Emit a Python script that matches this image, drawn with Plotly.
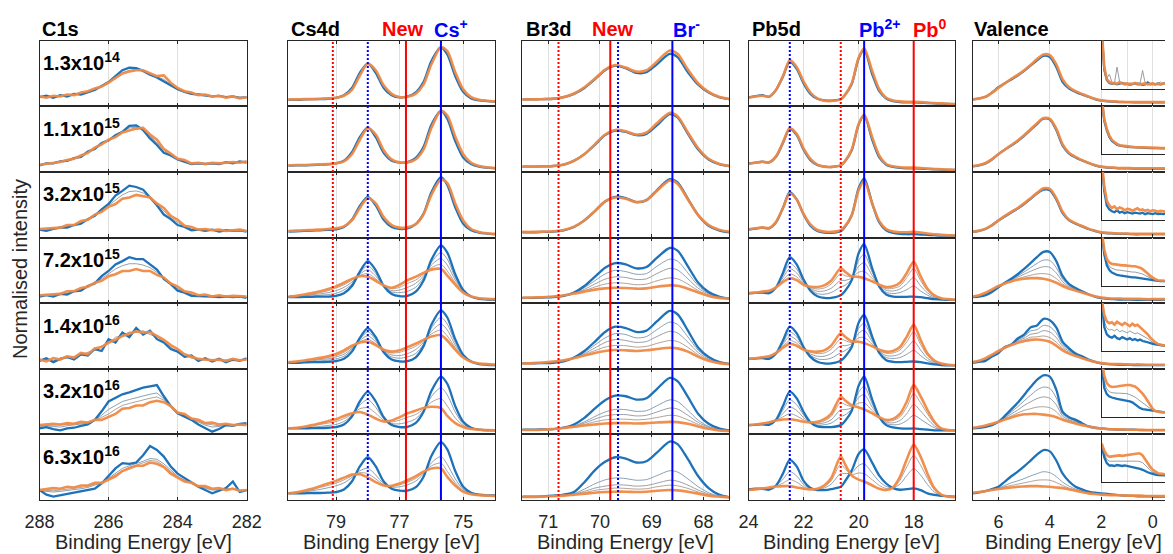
import plotly.graph_objects as go

# ------------------------------------------------------------------ data
DOSES = ['1.3x10<sup>14</sup>', '1.1x10<sup>15</sup>', '3.2x10<sup>15</sup>', '7.2x10<sup>15</sup>',
         '1.4x10<sup>16</sup>', '3.2x10<sup>16</sup>', '6.3x10<sup>16</sup>']

# ---- C1s
E_C1S = [288.0, 287.8, 287.6, 287.4, 287.2, 287.0, 286.8, 286.6, 286.4, 286.2, 286.0, 285.8, 285.6, 285.4,
         285.2, 285.0, 284.8, 284.6, 284.4, 284.2, 284.0, 283.8, 283.6, 283.4, 283.2, 283.0, 282.8, 282.6,
         282.4, 282.2, 282.0]
C1S_BLUE = [
    [14, 16, 13, 17, 15, 19, 18, 22, 25, 31, 37, 46, 55, 59, 58, 54, 48, 44, 38, 31, 26, 22, 19, 18, 17, 15, 16, 14, 15, 13, 14],
    [10, 13, 13, 16, 17, 21, 23, 31, 35, 44, 48, 56, 61, 70, 71, 64, 51, 41, 29, 25, 19, 16, 12, 13, 12, 13, 12, 15, 13, 16, 14],
    [12, 10, 13, 15, 15, 19, 21, 28, 33, 43, 51, 64, 71, 79, 77, 73, 61, 49, 35, 28, 19, 16, 11, 12, 10, 12, 9, 11, 10, 11, 9],
    [10, 12, 10, 14, 13, 18, 19, 26, 30, 41, 49, 59, 64, 70, 67, 67, 59, 51, 37, 29, 19, 16, 11, 11, 10, 10, 9, 10, 9, 10, 8],
    [12, 16, 10, 15, 18, 14, 22, 20, 30, 27, 45, 40, 55, 48, 62, 52, 58, 45, 40, 30, 26, 18, 20, 12, 16, 11, 15, 10, 14, 12, 16],
    [9, 11, 8, 6, 9, 10, 13, 15, 22, 35, 50, 56, 61, 64, 68, 71, 73, 75, 58, 43, 32, 27, 22, 15, 9, 4, 8, 14, 13, 16, 17],
    [15, 8, 5, 7, 8, 10, 12, 14, 17, 25, 37, 48, 56, 55, 57, 68, 82, 76, 66, 51, 40, 33, 27, 20, 15, 10, 14, 18, 28, 12, 15],
]
C1S_ORANGE = [
    [15, 13, 16, 15, 18, 17, 21, 23, 27, 30, 36, 43, 50, 53, 55, 55, 50, 46, 47, 36, 28, 23, 21, 17, 18, 15, 16, 13, 15, 12, 14],
    [11, 12, 14, 15, 18, 20, 25, 29, 37, 42, 49, 53, 60, 63, 66, 67, 57, 49, 35, 28, 20, 18, 13, 14, 12, 14, 13, 14, 15, 14, 16],
    [13, 14, 15, 15, 19, 19, 25, 27, 35, 39, 47, 51, 59, 61, 65, 63, 61, 52, 45, 33, 27, 18, 16, 12, 13, 11, 12, 10, 11, 12, 10],
    [12, 13, 14, 14, 18, 18, 23, 25, 31, 34, 41, 44, 49, 49, 52, 49, 49, 43, 39, 30, 25, 18, 16, 12, 13, 10, 12, 10, 11, 10, 10],
    [14, 11, 16, 14, 19, 17, 24, 22, 31, 33, 40, 44, 50, 53, 57, 55, 56, 50, 44, 36, 30, 22, 19, 15, 14, 13, 14, 12, 15, 13, 14],
    [14, 15, 16, 15, 17, 16, 19, 18, 22, 22, 26, 31, 39, 40, 44, 44, 49, 51, 49, 43, 33, 31, 24, 22, 17, 18, 15, 16, 14, 15, 14],
    [15, 16, 18, 17, 20, 19, 22, 22, 26, 26, 31, 36, 44, 48, 52, 52, 57, 55, 50, 40, 34, 28, 26, 21, 21, 17, 18, 15, 17, 14, 15],
]
C1S_GREY = [
    [[14, 15, 15, 16, 16, 18, 20, 22, 26, 30, 36, 44, 51, 55, 56, 54, 49, 45, 41, 33, 27, 22, 20, 18, 17, 16, 15, 15, 14, 14, 13]],
    [[10, 12, 14, 16, 18, 20, 24, 30, 36, 43, 49, 55, 61, 67, 68, 64, 55, 44, 33, 25, 20, 16, 13, 13, 13, 13, 13, 14, 14, 15, 15]],
    [[12, 13, 14, 15, 17, 19, 23, 28, 34, 41, 49, 57, 65, 70, 71, 68, 61, 51, 40, 30, 23, 17, 13, 12, 11, 11, 10, 10, 11, 10, 10]],
    [[11, 12, 12, 14, 15, 18, 21, 25, 30, 37, 45, 52, 57, 60, 60, 58, 54, 47, 38, 29, 22, 17, 13, 11, 11, 10, 10, 10, 10, 9, 9]],
    [[13, 14, 12, 16, 16, 18, 21, 25, 28, 35, 38, 48, 50, 56, 55, 58, 52, 49, 41, 34, 25, 21, 16, 15, 13, 14, 12, 13, 12, 14, 13]],
    [[12, 13, 12, 11, 13, 14, 16, 17, 22, 29, 38, 44, 50, 53, 56, 58, 61, 63, 54, 43, 33, 28, 23, 18, 14, 11, 12, 15, 14, 15, 15],
     [13, 14, 14, 14, 15, 16, 17, 18, 21, 26, 31, 38, 44, 47, 50, 52, 55, 57, 52, 43, 34, 29, 24, 20, 16, 14, 13, 15, 14, 14, 15]],
    [[14, 13, 12, 13, 14, 15, 17, 19, 22, 26, 33, 40, 48, 52, 55, 59, 63, 62, 55, 45, 36, 30, 25, 21, 18, 15, 15, 16, 18, 14, 15],
     [15, 14, 14, 15, 16, 17, 19, 21, 24, 27, 32, 38, 45, 50, 53, 56, 60, 59, 52, 43, 35, 30, 25, 21, 19, 16, 16, 16, 17, 15, 15]],
]

# ---- Cs4d
E_CS = [80.5, 80.25, 80.0, 79.75, 79.5, 79.25, 79.0, 78.75, 78.5, 78.25, 78.0, 77.75, 77.5, 77.25, 77.0,
        76.75, 76.5, 76.25, 76.0, 75.7, 75.5, 75.25, 75.0, 74.75, 74.5, 74.25, 74.0]
CS_BLUE = [
    [10, 10, 10.5, 11, 11, 11.5, 13, 17, 28, 51, 65, 51, 28, 17, 13.5, 15, 21, 37, 69, 90, 79, 46, 22, 12, 9, 8, 7],
    [9.5, 10, 10, 10.5, 11, 11.5, 13, 17, 30, 53, 68, 53, 29, 17, 14, 15, 21, 38, 72, 93, 81, 47, 22, 12, 8, 6.5, 5.5],
    [9, 9.5, 10, 10.5, 11, 11.5, 12.5, 16, 27, 48, 62, 49, 27, 16, 13, 14, 20, 36, 69, 92, 80, 46, 21, 11, 7.5, 6, 5],
    [9, 9, 9.5, 9.5, 10, 10, 11, 15, 26, 48, 64, 50, 26, 14, 10.5, 11, 17, 34, 66, 88, 77, 44, 20, 10, 6.5, 5.5, 5],
    [9, 9, 9.5, 10, 10, 10.5, 11.5, 15, 26, 47, 62, 48, 25, 14, 11, 11.5, 17, 34, 67, 89, 78, 45, 21, 11, 7, 6, 5.5],
    [9, 9, 9, 9.5, 9.5, 10, 11, 15, 27, 50, 65, 50, 26, 14, 11, 11.5, 17, 34, 66, 88, 77, 43, 19, 10, 7, 6, 6],
    [10, 10, 10, 10.5, 10.5, 11, 12, 16, 28, 51, 65, 51, 28, 17, 14, 14, 19, 35, 67, 88, 77, 44, 20, 11, 8, 7, 7],
]
CS_ORANGE = [
    [10.5, 10.5, 11, 11, 11.5, 12, 13, 16, 25, 47, 65, 55, 32, 19, 14, 14.5, 19, 33, 64, 90, 84, 52, 26, 14, 10, 8.5, 7.5],
    [10, 10.5, 10.5, 11, 11.5, 12, 13, 16, 27, 49, 67, 57, 33, 19, 14.5, 14.5, 19, 34, 67, 93, 86, 54, 27, 14, 9, 7, 6],
    [10, 10.5, 11, 11.5, 12, 13, 14, 17, 26, 45, 60, 52, 31, 19, 15, 15.5, 20, 35, 65, 88, 83, 52, 26, 13, 8.5, 6.5, 5.5],
    [10, 11, 13, 15.5, 18, 21.5, 25.5, 31, 37, 41, 40, 34, 27, 23.5, 28, 35, 40, 46, 51, 52, 42, 28, 16, 10, 7.5, 6.5, 6],
    [10, 11, 12.5, 14.5, 16.5, 19, 22.5, 28, 35, 40, 41, 36, 29, 26, 28, 33, 38, 44, 49, 51, 43, 29, 17, 10.5, 8, 7, 6.5],
    [9, 10, 11.5, 14, 17, 20, 23, 28, 32, 34, 30, 24, 19.5, 21, 26, 32, 36, 40, 42, 40, 28, 17, 11, 8, 7, 6.5, 6],
    [10, 11.5, 14, 17, 21, 25, 29, 34, 38.5, 39, 34, 27, 22, 21.5, 25, 30, 36, 43, 48, 48, 35, 22, 12.5, 8.5, 7, 6.5, 6],
]
CS_GREY = [
    [], [], [],
    [[9, 10, 11, 11, 12, 13, 15, 20, 29, 46, 57, 45, 26, 17, 16, 18, 24, 38, 62, 77, 67, 39, 19, 10, 7, 6, 5],
     [10, 10, 11, 13, 14, 16, 19, 24, 32, 44, 51, 41, 27, 19, 20, 24, 30, 41, 58, 68, 58, 35, 18, 10, 7, 6, 6],
     [10, 11, 12, 14, 16, 19, 23, 28, 35, 42, 45, 37, 27, 22, 24, 30, 35, 44, 54, 59, 49, 31, 17, 10, 7, 6, 6]],
    [[9, 10, 10, 11, 12, 13, 15, 19, 29, 45, 56, 44, 26, 18, 16, 18, 23, 37, 62, 78, 68, 40, 20, 11, 7, 6, 6],
     [10, 10, 11, 12, 14, 15, 18, 22, 31, 43, 50, 41, 27, 21, 20, 23, 29, 40, 57, 68, 59, 36, 19, 11, 8, 7, 6],
     [10, 11, 12, 14, 15, 17, 20, 25, 33, 41, 45, 38, 28, 24, 25, 29, 34, 42, 53, 59, 50, 32, 18, 11, 8, 7, 6]],
    [[9, 9, 10, 11, 12, 13.5, 15, 19.5, 29, 44.5, 53, 41, 24, 16.5, 16, 18.5, 23.5, 36, 57.5, 71, 60, 34, 16, 9.5, 7, 6, 6],
     [9, 10, 11, 13, 15, 17, 19.5, 24, 30.5, 39, 40.5, 32, 21.5, 19, 21.5, 26, 30, 38, 49, 54.5, 43, 25, 13.5, 8.5, 7, 6.5, 6]],
    [[10, 11, 12, 14, 16, 18.5, 21.5, 26, 34, 44.5, 48, 38, 24.5, 19.5, 20, 23, 28.5, 39.5, 56.5, 66, 54, 32, 16, 10, 7.5, 7, 6.5],
     [10, 11, 13, 16, 19, 22, 25.5, 30.5, 36.5, 41.5, 40, 32, 23, 20.5, 23, 27, 32.5, 41.5, 52, 56, 43.5, 26.5, 14, 9, 7, 6.5, 6]],
]

# ---- Br3d
E_BR = [71.5, 71.3, 71.1, 70.9, 70.7, 70.5, 70.3, 70.1, 69.9, 69.7, 69.5, 69.3, 69.1, 68.9, 68.65, 68.5, 68.3,
        68.1, 67.9, 67.7, 67.5]
BR_BLUE = [
    [10.5, 10.5, 11, 11.5, 14, 19, 28, 41, 55, 62, 58, 51, 52, 64, 80, 75, 52, 33, 21, 14, 11],
    [8, 8, 8.5, 9, 11, 17, 27, 41, 56, 63, 61, 56, 58, 71, 88, 83, 58, 34, 19, 12, 9],
    [8, 8, 8.5, 9, 11, 16, 26, 40, 55, 62, 60, 54, 57, 72, 89, 84, 59, 34, 18, 11, 8],
    [8, 8, 8.5, 9, 11, 16, 26, 40, 54, 61, 59, 53, 55, 69, 84, 80, 56, 31, 17, 10, 7],
    [8, 8, 8.5, 9, 11, 17, 27, 41, 56, 64, 62, 56, 58, 72, 88, 83, 58, 32, 18, 10.5, 7.5],
    [7, 7, 7.5, 8, 10, 15, 25, 39, 52, 59, 58, 53, 55, 69, 86, 81, 57, 31, 16, 9, 6],
    [5, 5, 5.5, 6.5, 8, 12, 27, 45, 58, 65, 63, 57, 59, 72, 89, 85, 62, 36, 18, 8, 4],
]
BR_ORANGE = [
    [10.5, 10.5, 11, 11.5, 14, 19.5, 29, 42, 56, 63, 59, 53, 55, 68, 85, 80, 56, 35, 22, 14.5, 11],
    [8, 8, 8.5, 9, 11, 17, 27, 42, 57, 64, 62, 57, 60, 74, 90, 85, 60, 36, 20, 12.5, 9],
    [8.5, 8.5, 9, 9.5, 11.5, 16.5, 26, 40, 55, 61, 59, 54, 57, 71, 87, 82, 58, 34, 19, 12, 9],
    [8, 8.5, 9, 10, 12, 14.5, 17.5, 20.5, 22.5, 23.5, 23, 22, 22.5, 25, 27, 26.5, 22, 16, 11, 8, 7],
    [8, 8.5, 9.5, 11, 13, 16, 20, 24, 27, 28.5, 28, 27, 28, 30, 32, 31, 26, 18, 12, 8.5, 7],
    [6.5, 6.5, 7, 8, 9.5, 11.5, 13.5, 15, 16.5, 17, 17, 16.5, 17, 18, 19, 18.5, 16, 12, 8.5, 6, 5],
    [4.5, 4.5, 5, 5.5, 6.5, 8, 9.5, 11, 12, 12.5, 12.5, 12, 12.5, 14, 15, 14.5, 12.5, 9.5, 6.5, 5, 4],
]
BR_GREY = [
    [], [], [],
    [[8, 8, 8.5, 9, 11.5, 15.5, 23.5, 34, 44.5, 50, 48, 44, 45, 56, 67, 64, 46, 26.5, 15, 9.5, 7],
     [8, 8, 9, 9.5, 11.5, 15, 21, 29, 36.5, 40, 39, 36, 37, 45, 53, 50.5, 37, 22.5, 14, 9, 7],
     [8, 8.5, 9, 10, 12, 15, 19, 24.5, 29, 31, 30, 28, 29, 34, 38.5, 37, 29, 19, 12, 8.5, 7]],
    [[8, 8, 9, 10, 12, 17, 25, 36, 47, 53.5, 52, 47, 49, 59.5, 71, 67.5, 48.5, 28, 16, 10, 7.5],
     [8, 8, 9, 10, 12, 16.5, 23, 31.5, 40, 44.5, 43, 40, 41.5, 49, 57, 54.5, 40.5, 24.5, 14.5, 9.5, 7],
     [8, 8.5, 9, 11, 13, 16, 21.5, 27.5, 33, 35.5, 35, 33, 34, 38.5, 43, 41.5, 32.5, 21, 13, 9, 7]],
    [[7, 7, 7, 8, 10, 13, 19, 27, 34, 38, 37.5, 35, 36, 43.5, 52.5, 50, 36.5, 21.5, 12, 7.5, 5.5],
     [7, 7, 7, 8, 10, 12.5, 17, 23, 28, 30, 30, 28, 29, 34, 40, 38.5, 29, 18, 11, 7, 5],
     [6.5, 6.5, 7, 8, 9.5, 12, 15, 19, 22, 23, 23, 22, 23, 25.5, 29, 28, 22, 15, 9.5, 6.5, 5]],
    [[5, 5, 5, 6, 7, 9.5, 16.5, 24.5, 30.5, 33.5, 32.5, 30, 31, 37, 44.5, 42.5, 32, 20, 11, 6, 4],
     [4.5, 4.5, 5, 5.5, 7, 9, 13, 18, 21, 23, 22.5, 21, 22, 25.5, 30, 28.5, 22.5, 15, 9, 5.5, 4],
     [4.5, 4.5, 5, 5.5, 6.5, 8.5, 11, 14.5, 16.5, 18, 17.5, 16.5, 17, 20, 22.5, 21.5, 17.5, 12, 7.5, 5.5, 4]],
]

# ---- Pb5d
E_PB = [24.0, 23.75, 23.5, 23.25, 23.0, 22.75, 22.5, 22.25, 22.0, 21.75, 21.5, 21.25, 21.0, 20.65, 20.5, 20.25,
        20.0, 19.8, 19.5, 19.25, 19.0, 18.75, 18.5, 18.25, 18.0, 17.75, 17.5, 17.25, 17.0, 16.75, 16.5]
PB_BLUE = [
    [13.5, 15.5, 17, 14.5, 25, 45, 68, 57, 35, 19, 11.5, 9, 8.5, 11, 17, 34, 73, 86, 48, 23, 12, 8, 6.5, 6, 6, 5.5, 5, 4.5, 4, 3.5, 3],
    [12.5, 14, 15.5, 14.5, 23, 44, 66, 56, 34, 18, 10.5, 8, 7.5, 10, 16, 33, 72, 86, 48, 22, 11, 7.5, 6, 5.5, 5.5, 5, 4.5, 4, 3.5, 3, 3],
    [12, 13.5, 15, 14, 23, 45, 69, 58, 35, 18, 10, 7.5, 7, 9.5, 16, 34, 75, 90, 51, 23, 11, 7, 5.5, 5, 5, 4.5, 4, 3.5, 3, 3, 3],
    [15, 15.5, 16, 15, 24, 46, 70, 59, 36, 19, 10.5, 8, 8, 12, 18, 35, 76, 90, 52, 25, 13, 10, 9.5, 9.5, 10, 9, 7.5, 6, 5.5, 5, 5],
    [15, 15.5, 16, 15, 23, 43, 64, 54, 33, 18, 10.5, 8, 8, 12, 18, 33, 70, 82, 48, 24, 13, 10.5, 10, 10.5, 11, 10, 8, 6.5, 5.5, 5, 5],
    [14, 14.5, 15, 14.5, 22, 43, 65, 55, 34, 18, 12, 11, 11, 14, 20, 36, 74, 88, 52, 26, 14, 10.5, 9, 8.5, 9, 8, 7, 6, 6, 6, 6],
    [16, 17, 17, 15.5, 22, 40, 61, 51, 29, 18, 15, 15, 16.5, 20, 28, 45, 70, 77, 56, 37, 25, 18, 15.5, 16.5, 17.5, 15, 10, 7.5, 6, 5.5, 5],
]
PB_ORANGE = [
    [13, 15, 16, 15, 25, 46, 70, 60, 38, 21, 12, 8.5, 8, 10.5, 17, 35, 74, 88, 53, 26, 13, 9, 7.5, 7, 7, 6.5, 5.5, 5, 4.5, 4, 3.5],
    [12.5, 14, 15.5, 14.5, 24, 45, 67, 58, 36, 20, 11, 8, 7.5, 10, 16, 34, 73, 87, 52, 25, 12, 8.5, 7, 6.5, 6.5, 6, 5, 4.5, 4, 3.5, 3],
    [12.5, 14, 15.5, 14.5, 24, 45, 67, 58, 36, 20, 11.5, 9, 8.5, 11, 17, 34, 72, 86, 51, 25, 13, 9, 8, 8, 8.5, 7.5, 6, 5, 4, 3.5, 3],
    [15, 16, 17.5, 19, 24, 32, 38, 35, 28, 25, 24.5, 27, 34, 53, 48, 41, 40, 38, 33, 28, 24.5, 25.5, 31, 46, 63, 41, 22, 12, 7.5, 6, 5],
    [15, 16, 17.5, 19, 24, 32, 38, 35, 29, 26.5, 26, 28, 35, 54, 49, 42, 41, 39, 34, 29, 26, 27, 33, 49, 67, 44, 23, 12.5, 8, 6, 5],
    [14, 15, 16.5, 18.5, 21, 22.5, 23, 21.5, 19, 18, 19, 23, 31, 57, 52, 44, 41, 38, 32, 26, 22, 23.5, 31, 50, 75, 58, 37, 19, 9, 6.5, 6],
    [15, 16, 17.5, 19, 20.5, 21, 21, 19, 17, 16, 17, 22, 33, 66, 55, 37, 31, 28, 22, 17, 15, 19, 35, 62, 84, 66, 40, 18, 8, 5, 4],
]
PB_GREY = [
    [], [], [],
    [[15, 15.5, 16.5, 16, 24, 42, 60.5, 52, 33.5, 21, 14.5, 13.5, 16, 24.5, 27, 37, 65, 74.5, 46.5, 26, 16.5, 14.5, 16, 20.5, 26, 18.5, 12, 8, 6, 5.5, 5],
     [15, 16, 17, 17, 24, 38.5, 52.5, 46, 31.5, 22.5, 18, 18.5, 22.5, 34.5, 34.5, 38.5, 56, 61.5, 41.5, 26.5, 19.5, 18.5, 21.5, 29.5, 39, 26.5, 15.5, 9.5, 6.5, 5.5, 5],
     [15, 16, 17, 18, 24, 35, 44.5, 40, 29.5, 24, 21.5, 23, 29, 45, 42, 40, 47, 48.5, 37, 27.5, 22, 22.5, 26, 39, 52.5, 34.5, 19, 11, 7, 6, 5]],
    [[15, 15.5, 16.5, 16, 23.5, 39.5, 56, 48.5, 32, 20.5, 15, 14, 16, 24.5, 27.5, 35.5, 61.5, 69, 44, 25.5, 17, 15.5, 17, 22, 28, 20, 12.5, 8.5, 6.5, 5.5, 5],
     [15, 16, 17, 17, 23.5, 37, 49.5, 43.5, 31, 22.5, 19, 19, 23, 35, 35, 38, 54, 58.5, 40.5, 27, 20, 19.5, 22.5, 31.5, 42, 28.5, 16, 10, 7, 5.5, 5],
     [15, 16, 17, 18, 24, 34, 43, 39, 30, 25, 23, 24, 29.5, 45.5, 43, 40, 47, 47.5, 37, 28, 23.5, 24, 28.5, 41, 56, 37, 20, 11.5, 7.5, 6, 5]],
    [[14, 14.5, 15.5, 15.5, 21.5, 37, 52.5, 45, 29.5, 18, 14, 14.5, 17, 27, 29.5, 38.5, 64, 73, 46, 26, 16.5, 14.5, 15.5, 21, 29, 23, 16, 10, 7, 6, 6],
     [14, 15, 16, 16.5, 21.5, 31.5, 41.5, 36.5, 25.5, 18, 16, 17.5, 22, 37.5, 37.5, 40.5, 56, 60.5, 41, 26, 18.5, 17.5, 21, 31.5, 45.5, 35.5, 23.5, 13, 7.5, 6.5, 6],
     [14, 15, 16, 17.5, 21, 26.5, 31.5, 28, 22, 18, 17.5, 20.5, 27, 48.5, 45.5, 42.5, 47.5, 48, 36, 26, 20.5, 21, 26.5, 41.5, 62, 48, 31, 16.5, 8.5, 6.5, 6]],
    [[15.5, 16.5, 17, 17, 21.5, 31.5, 43, 36.5, 23.5, 17, 16, 18, 24, 40.5, 40, 41.5, 52.5, 55, 40.5, 28, 20.5, 18.5, 24, 37, 47.5, 38, 23.5, 12, 7, 5.5, 4.5],
     [15, 16, 17.5, 18, 21, 25.5, 31, 27, 20, 16.5, 16.5, 20, 29, 54.5, 48, 39, 41, 40, 30.5, 22, 17.5, 18.5, 30, 50.5, 67.5, 53, 32.5, 15.5, 7.5, 5, 4.5]],
]

# ---- Valence band
E_VB = [7.0, 6.75, 6.5, 6.25, 6.0, 5.75, 5.5, 5.25, 5.0, 4.75, 4.5, 4.25, 4.0, 3.75, 3.5, 3.25, 3.0, 2.75,
        2.5, 2.25, 2.0, 1.75, 1.5, 1.25, 1.0, 0.75, 0.5, 0.25, 0.0, -0.25, -0.5, -0.8]
VB_BLUE = [
    [10.5, 12, 14.5, 21, 29, 35, 41, 47, 54, 62, 70, 77, 75, 60, 37, 27, 22, 18, 14.5, 11, 8.5, 7.5, 7, 6.5, 6.5, 6, 6, 6, 6, 6, 6, 6],
    [8.5, 10, 13, 19, 27, 34, 40, 47, 55, 64, 73, 81, 80, 64, 40, 28, 22, 17.5, 13.5, 10, 7.5, 6.5, 6, 5.5, 5.5, 5, 5, 5, 5, 5, 5, 5],
    [8.5, 10, 13, 18.5, 26, 32, 38, 44, 51, 59, 67, 73, 72, 58, 37, 26, 21, 17, 13, 10, 7.5, 6.5, 6, 5.5, 5.5, 5, 5, 5, 5, 5, 5, 5],
    [9, 10, 12, 17, 24, 31, 37, 44, 52, 61, 70, 78, 78, 64, 41, 29, 23, 18, 13.5, 10, 7.5, 6.5, 6, 5.5, 5.5, 5, 5, 5, 5, 5, 5, 5],
    [9, 10.5, 12, 18.5, 24, 33, 37, 46, 52, 63, 66, 76, 74, 63, 41, 31, 23, 19, 14, 10.5, 8, 7, 6.5, 6, 6, 5.5, 5.5, 5.5, 5.5, 5.5, 5.5, 5.5],
    [9, 10, 11.5, 14, 19, 28, 38, 48, 60, 72, 83, 90, 88, 68, 34, 26, 22, 17, 12, 10, 9, 8, 7.5, 7, 7, 7, 6.5, 6.5, 6.5, 6.5, 6.5, 6.5],
    [10, 11.5, 13.5, 16.5, 20, 28, 36, 43, 51, 60, 69, 76, 74, 60, 40, 28, 20, 16, 12.5, 11, 10, 9, 8, 7, 6.5, 6, 5.5, 5.5, 5, 5, 5, 5],
]
VB_ORANGE = [
    [10.5, 12, 14.5, 20.5, 28, 35, 42, 48, 55, 63, 72, 79, 78, 64, 41, 29, 23, 19, 15, 11.5, 9, 8, 7.5, 7, 6.5, 6.5, 6.5, 6.5, 6.5, 6.5, 6.5, 6.5],
    [9, 10.5, 13.5, 19.5, 27, 34, 41, 48, 56, 65, 74, 82, 81, 66, 42, 29, 23, 18, 14, 10.5, 8, 7, 6.5, 6, 6, 5.5, 5.5, 5.5, 5.5, 5.5, 5.5, 5.5],
    [9, 10.5, 13.5, 19, 26, 33, 39, 45, 52, 60, 68, 75, 74, 60, 39, 27, 22, 17.5, 13.5, 10.5, 8, 7, 6.5, 6, 6, 5.5, 5.5, 5.5, 5.5, 5.5, 5.5, 5.5],
    [10, 12, 16, 21, 26, 30, 33, 35.5, 37, 38, 38, 37, 35, 31, 26, 22, 19, 16, 13, 10.5, 8.5, 7.5, 7, 7, 6.5, 6.5, 6.5, 6, 6, 6, 6, 6],
    [10, 12, 16, 21.5, 27, 32, 36, 39.5, 42, 44, 44.5, 43.5, 41, 35, 28, 23, 19.5, 16, 13, 10.5, 8.5, 7.5, 7, 7, 6.5, 6.5, 6.5, 6, 6, 6, 6, 6],
    [10, 11.5, 13.5, 16, 19, 22.5, 25.5, 28.5, 30.5, 31, 31, 30, 28.5, 26, 22, 19, 16.5, 14, 12, 10, 9, 8, 7.5, 7.5, 7, 7, 7, 6.5, 6.5, 6.5, 6.5, 6.5],
    [11, 12, 13.5, 15, 16.5, 18, 19, 20, 20.5, 21, 21, 20.5, 20, 19, 18, 16, 14, 12, 10, 9, 8, 7.5, 7, 7, 6.5, 6.5, 6.5, 6, 6, 6, 6, 6],
]
VB_GREY = [
    [], [], [],
    [[9.5, 10.5, 13, 18, 24.5, 30.5, 36, 41.5, 47.5, 54, 60.5, 65.5, 65, 54, 36.5, 27, 22, 17.5, 13.5, 10, 8, 7, 6.5, 6, 6, 5.5, 5.5, 5.5, 5.5, 5.5, 5.5, 5.5],
     [9.5, 11, 14, 19, 25, 30.5, 35, 39.5, 44, 48.5, 52.5, 55.5, 54.5, 46, 32.5, 25, 21, 17, 13, 10.5, 8, 7, 6.5, 6.5, 6, 6, 6, 5.5, 5.5, 5.5, 5.5, 5.5],
     [10, 11.5, 15, 20, 25.5, 30, 34, 37, 40, 42.5, 44.5, 45, 43.5, 37.5, 29, 23.5, 19.5, 16.5, 13, 10.5, 8.5, 7.5, 7, 6.5, 6.5, 6, 6, 6, 6, 6, 6, 6]],
    [[9.5, 11, 13, 19.5, 25, 32.5, 36.5, 44, 49, 57.5, 59.5, 66, 64, 54.5, 37, 28.5, 22, 18, 13.5, 10.5, 8, 7, 6.5, 6.5, 6, 6, 6, 5.5, 5.5, 5.5, 5.5, 5.5],
     [9.5, 11, 14, 20, 25.5, 32.5, 36.5, 42.5, 46.5, 52.5, 54, 58, 56, 47.5, 34, 26.5, 21, 17.5, 13.5, 10.5, 8.5, 7.5, 7, 6.5, 6.5, 6, 6, 6, 6, 6, 6, 6],
     [10, 11.5, 15, 21, 26.5, 32, 36, 41, 44, 48, 48.5, 50, 47.5, 40.5, 31, 24.5, 20, 17, 13, 10.5, 8.5, 7.5, 7, 7, 6.5, 6.5, 6.5, 6, 6, 6, 6, 6]],
    [[9.5, 10.5, 12, 14.5, 19, 26.5, 34, 42, 51, 59.5, 67.5, 72, 70, 55.5, 30.5, 24, 20.5, 16, 12, 10, 9, 8, 7.5, 7, 7, 7, 6.5, 6.5, 6.5, 6.5, 6.5, 6.5],
     [9.5, 11, 12.5, 15, 19, 25, 31, 37, 44, 49.5, 54.5, 57, 55, 45, 27.5, 22, 19, 15.5, 12, 10, 9, 8, 7.5, 7.5, 7, 7, 7, 6.5, 6.5, 6.5, 6.5, 6.5],
     [10, 11, 13, 15.5, 19, 23.5, 28, 32.5, 36.5, 39, 41.5, 42, 40.5, 34.5, 24.5, 20.5, 17.5, 14.5, 12, 10, 9, 8, 7.5, 7.5, 7, 7, 7, 6.5, 6.5, 6.5, 6.5, 6.5]],
    [[10.5, 12, 13.5, 16, 18, 22, 26, 29, 32.5, 36.5, 40, 43, 41.5, 35.5, 27, 21, 16.5, 13.5, 11, 10, 9, 8, 7.5, 7, 6.5, 6.5, 6, 6, 5.5, 5.5, 5.5, 5.5],
     [11, 12, 13.5, 15.5, 17, 20, 22, 24, 26, 28, 30, 30.5, 30, 26.5, 22, 18, 15, 12.5, 10.5, 9.5, 8.5, 8, 7, 7, 6.5, 6.5, 6.5, 6, 6, 6, 6, 6]],
]

# ---- valence-band edge insets
E_IN = [2.0, 1.9, 1.8, 1.7, 1.6, 1.5, 1.4, 1.3, 1.2, 1.1, 1.0, 0.9, 0.8, 0.7, 0.6, 0.5, 0.4, 0.3, 0.2, 0.1,
        0.0, -0.1, -0.2, -0.3, -0.4, -0.5, -0.6, -0.7, -0.8]
IN_BLUE = [
    [120, 40, 18, 12, 10, 11, 9, 10, 12, 9, 10, 8, 9, 11, 9, 10, 8, 9, 13, 9, 10, 9, 11, 9, 10, 12, 9, 10, 9],
    [115, 70, 50, 36, 28, 23, 20, 18, 17, 16, 15.5, 15, 15, 14.5, 14, 14, 14, 13.5, 13.5, 13, 13, 13, 13, 12.5, 12.5, 12.5, 12, 12, 12],
    [120, 60, 30, 22, 18, 16, 20, 15, 17, 14, 16, 15, 13, 15, 14, 13, 15, 12, 14, 13, 12, 14, 12, 13, 12, 13, 12, 12, 12],
    [110, 65, 42, 32, 27, 24, 22, 21, 20, 19, 18, 18, 17, 17, 16, 15, 14, 13, 12, 11, 10, 10, 9.5, 9, 9, 9, 9, 9, 9],
    [105, 50, 35, 30, 28, 32, 27, 25, 29, 26, 24, 27, 23, 25, 22, 24, 21, 20, 18, 17, 15, 14, 13, 12, 12, 11, 11, 11, 11],
    [110, 60, 47, 42, 40, 38, 37, 36, 35, 35, 34, 32, 30, 26, 22, 18, 16, 15, 14, 13, 12, 11, 10, 10, 9.5, 9.5, 9, 9, 9],
    [77, 52, 40, 35, 35, 34, 36, 35, 34, 35, 34, 33, 32, 30, 29, 28, 26, 23, 21, 19, 17, 16, 15, 15, 15, 15, 14, 14, 14],
]
IN_ORANGE = [
    [125, 45, 20, 14, 11, 12, 10, 14, 11, 10, 11, 9, 10, 12, 10, 9, 10, 11, 9, 10, 11, 9, 10, 9, 11, 10, 9, 10, 10],
    [118, 74, 53, 39, 30, 25, 21.5, 19, 18, 17, 16.5, 16, 15.5, 15, 15, 14.5, 14.5, 14, 14, 14, 13.5, 13.5, 13.5, 13, 13, 13, 13, 13, 13],
    [125, 70, 40, 30, 25, 28, 22, 26, 24, 20, 23, 22, 19, 21, 24, 20, 22, 19, 21, 18, 20, 19, 17, 19, 18, 17, 18, 17, 17],
    [115, 75, 55, 48, 45, 44, 43, 43, 42, 42, 41, 41, 40, 40, 39, 37, 34, 30, 25, 20, 16, 13, 11, 10, 10, 9.5, 9.5, 9.5, 9.5],
    [110, 75, 62, 58, 60, 55, 61, 57, 54, 59, 56, 52, 57, 53, 55, 50, 47, 42, 35, 28, 22, 18, 15, 13, 12, 12, 11, 11, 11],
    [120, 85, 70, 64, 62, 62, 63, 64, 65, 65, 66, 66, 65, 63, 59, 54, 48, 41, 33, 24, 16, 12, 10, 9.5, 9, 9, 9, 9, 9],
    [81, 66, 57, 53, 54, 55, 55, 56, 55, 56, 56, 57, 58, 59, 60, 60, 56, 48, 39, 32, 26, 22, 19, 18, 17, 16, 15, 15, 15],
]
IN_GREY = [
    [[122, 42, 22, 30, 14, 12, 45, 15, 11, 13, 10, 12, 11, 10, 13, 11, 38, 12, 10, 11, 12, 10, 11, 14, 10, 12, 11, 10, 11]],
    [],
    [],
    [[112, 70, 48, 40, 36, 34, 32, 32, 31, 30, 29, 29, 28, 28, 27, 26, 24, 21, 18, 15, 13, 11, 10, 9.5, 9.5, 9, 9, 9, 9]],
    [[108, 62, 48, 44, 45, 42, 46, 40, 43, 41, 38, 42, 39, 36, 38, 35, 33, 30, 26, 22, 18, 16, 14, 12, 12, 11, 11, 11, 11]],
    [[115, 72, 58, 52, 50, 49, 49, 49, 49, 48, 48, 46, 44, 41, 37, 33, 29, 25, 21, 17, 13, 11, 10, 9.5, 9, 9, 9, 9, 9]],
    [[79, 60, 48, 44, 44, 44, 45, 45, 44, 45, 45, 45, 45, 44, 44, 43, 41, 36, 30, 25, 21, 19, 17, 16, 16, 15, 14.5, 14.5, 14.5]],
]

# marker lines (energy, colour, dotted?)
MARK_LINES = [
    [],
    [(79.1, '#ff0000', True), (78.0, '#0000ff', True), (76.8, '#ff0000', False), (75.7, '#0000ff', False)],
    [(70.8, '#ff0000', True), (69.8, '#ff0000', False), (69.65, '#0000ff', True), (68.6, '#0000ff', False)],
    [(22.5, '#0000ff', True), (20.65, '#ff0000', True), (19.8, '#0000ff', False), (18.0, '#ff0000', False)],
    [],
]
XTICKS = [[288, 286, 284, 282], [79, 77, 75], [71, 70, 69, 68], [24, 22, 20, 18], [6, 4, 2, 0]]
XRANGE = [[288, 282], [80.5, 74.0], [71.5, 67.5], [24.0, 16.5], [7.0, -0.79]]

PANELS = [
    ('C1s', E_C1S, C1S_BLUE, C1S_ORANGE, C1S_GREY),
    ('Cs4d', E_CS, CS_BLUE, CS_ORANGE, CS_GREY),
    ('Br3d', E_BR, BR_BLUE, BR_ORANGE, BR_GREY),
    ('Pb5d', E_PB, PB_BLUE, PB_ORANGE, PB_GREY),
    ('VB', E_VB, VB_BLUE, VB_ORANGE, VB_GREY),
    ('Inset', E_IN, IN_BLUE, IN_ORANGE, IN_GREY),
]
bad = []
for name, E, B, O, G in PANELS:
    for r in range(7):
        for lab, arr in [('blue', B[r]), ('orange', O[r])] + [('grey%d' % k, g) for k, g in enumerate(G[r])]:
            if len(arr) != len(E):
                bad.append('%s row%d %s: %d != %d' % (name, r + 1, lab, len(arr), len(E)))
if bad:
    raise ValueError('\n'.join(bad))

# ------------------------------------------------------------------ geometry / style
# the page body keeps its default 8 px margin, so the figure is drawn 8 px in from the
# top-left corner of the window: positions below are window pixels, converted with OFF.
OFF = 8
W, H = 1173 - OFF, 554 - OFF
ROW_TOP, ROW_H = 40.7, 65.6
COLS_PX = [(39.5, 246.7), (288.3, 495.0), (522.3, 729.3), (748.5, 955.0), (972.7, 1173.0)]
INSET_PX = (1101.7, 1173.0)
INSET_H = 48.0
INK = '#262626'
BLUE = '#1f72b8'
ORANGE = '#f08a45'
GREYS = ['#7d95ae', '#909398', '#a8998c']
GRID = '#e0e0e0'
FONT = 'Liberation Sans, Arial, Helvetica, sans-serif'
LW = 1.2


def fx(px):
    return (px - OFF) / W


def fy(py):
    return 1 - (py - OFF) / H


def xn(i):
    return 'x' if i == 1 else 'x%d' % i


def yn(i):
    return 'y' if i == 1 else 'y%d' % i


def xl(i):
    return 'xaxis' if i == 1 else 'xaxis%d' % i


def yl(i):
    return 'yaxis' if i == 1 else 'yaxis%d' % i


def grey_colours(n):
    if n == 1:
        return [GREYS[1]]
    if n == 2:
        return [GREYS[0], GREYS[2]]
    return GREYS[:n]


fig = go.Figure()
layout = {}


def add_lines(i, E, blue, orange, greys, smooth):
    shape = 'spline' if smooth else 'linear'
    for g, col in zip(greys, grey_colours(len(greys))):
        fig.add_trace(go.Scatter(x=E, y=g, mode='lines', xaxis=xn(i), yaxis=yn(i), hoverinfo='skip',
                                 line=dict(color=col, width=0.9, shape=shape, smoothing=0.8)))
    fig.add_trace(go.Scatter(x=E, y=blue, mode='lines', xaxis=xn(i), yaxis=yn(i), hoverinfo='skip',
                             line=dict(color=BLUE, width=2.3, shape=shape, smoothing=0.8)))
    fig.add_trace(go.Scatter(x=E, y=orange, mode='lines', xaxis=xn(i), yaxis=yn(i), hoverinfo='skip',
                             opacity=0.95, line=dict(color=ORANGE, width=2.6, shape=shape, smoothing=0.8)))


for c in range(5):
    name, E, B, O, G = PANELS[c]
    px0, px1 = COLS_PX[c]
    for r in range(7):
        i = c * 7 + r + 1
        top = ROW_TOP + r * ROW_H
        bot = top + ROW_H
        layout[xl(i)] = dict(domain=[fx(px0), min(1.0, fx(px1))], range=XRANGE[c], anchor=yn(i),
                             automargin=False,
                             tickmode='array', tickvals=XTICKS[c], ticktext=[str(t) for t in XTICKS[c]],
                             showticklabels=(r == 6), ticks='inside', ticklen=3, tickwidth=1.2, tickcolor=INK,
                             showline=True, linecolor=INK, linewidth=LW, mirror='ticks',
                             showgrid=True, gridcolor=GRID, gridwidth=1.3, zeroline=False,
                             tickfont=dict(family=FONT, size=18, color=INK), ticklabelstandoff=5,
                             fixedrange=True)
        layout[yl(i)] = dict(domain=[fy(bot), fy(top)], range=[0, 100], anchor=xn(i), automargin=False,
                             showline=True, linecolor=INK, linewidth=LW, mirror=(c < 4),
                             showgrid=False, zeroline=False, showticklabels=False, ticks='',
                             fixedrange=True)
        add_lines(i, E, B[r], O[r], G[r], smooth=(c > 0))

# insets in the valence column
for r in range(7):
    i = 36 + r
    top = ROW_TOP + r * ROW_H
    layout[xl(i)] = dict(domain=[fx(INSET_PX[0]), min(1.0, fx(INSET_PX[1]))], range=[2.0, -0.79], anchor=yn(i),
                         automargin=False, tickmode='array', tickvals=[1, 0], showticklabels=False, ticks='',
                         showline=True, linecolor=INK, linewidth=LW, mirror=False,
                         showgrid=True, gridcolor=GRID, gridwidth=1.3, zeroline=False, fixedrange=True)
    layout[yl(i)] = dict(domain=[fy(top + INSET_H), fy(top)], range=[0, 100], anchor=xn(i),
                         automargin=False, showline=True, linecolor=INK, linewidth=LW, mirror=False,
                         showgrid=False, zeroline=False, showticklabels=False, ticks='', fixedrange=True)
    add_lines(i, E_IN, IN_BLUE[r], IN_ORANGE[r], IN_GREY[r], smooth=False)

# marker lines spanning all rows of a column
shapes = []
for c in range(5):
    for e, col, dotted in MARK_LINES[c]:
        shapes.append(dict(type='line', xref=xn(c * 7 + 1), yref='paper', x0=e, x1=e,
                           y0=fy(ROW_TOP + 7 * ROW_H), y1=fy(ROW_TOP),
                           line=dict(color=col, width=2, dash='2px,2px' if dotted else 'solid'), layer='above'))

# texts
ann = []


def txt(text, x, y, size, color=INK, xanchor='left', yanchor='middle', angle=0):
    ann.append(dict(text=text, x=fx(x), y=fy(y), xref='paper', yref='paper', showarrow=False,
                    xanchor=xanchor, yanchor=yanchor, textangle=angle,
                    font=dict(family=FONT, size=size, color=color)))


TY = 29
txt('<b>C1s</b>', 40, TY, 20, '#000000')
txt('<b>Cs4d</b>', 289, TY, 20, '#000000')
txt('<b>New</b>', 402.5, TY, 20, '#ff0000', xanchor='center')
txt('<b>Cs<sup>+</sup></b>', 432, TY, 20, '#0000ff')
txt('<b>Br3d</b>', 524, TY, 20, '#000000')
txt('<b>New</b>', 613, TY, 20, '#ff0000', xanchor='center')
txt('<b>Br<sup>-</sup></b>', 671, TY, 20, '#0000ff')
txt('<b>Pb5d</b>', 749.5, TY, 20, '#000000')
txt('<b>Pb<sup>2+</sup></b>', 857, TY, 20, '#0000ff')
txt('<b>Pb<sup>0</sup></b>', 911, TY, 20, '#ff0000')
txt('<b>Valence</b>', 972, TY, 20, '#000000')

for r, lab in enumerate(DOSES):
    txt('<b>%s</b>' % lab, 41, ROW_TOP + r * ROW_H + 21, 20, '#000000')

txt('Normalised intensity', 20, 269, 20, INK, xanchor='center', angle=-90)
label_centres = [143, 391.7, 625.8, 851.8, 1073]
for xc in label_centres:
    txt('Binding Energy [eV]', xc, 542, 20, INK, xanchor='center')

layout.update(dict(template='none', width=W, height=H, margin=dict(l=0, r=0, t=0, b=0, pad=0), autosize=False,
                   paper_bgcolor='white', plot_bgcolor='rgba(0,0,0,0)', showlegend=False,
                   font=dict(family=FONT, color=INK), shapes=shapes, annotations=ann))
fig.update_layout(**layout)
fig.write_html('out.html')
